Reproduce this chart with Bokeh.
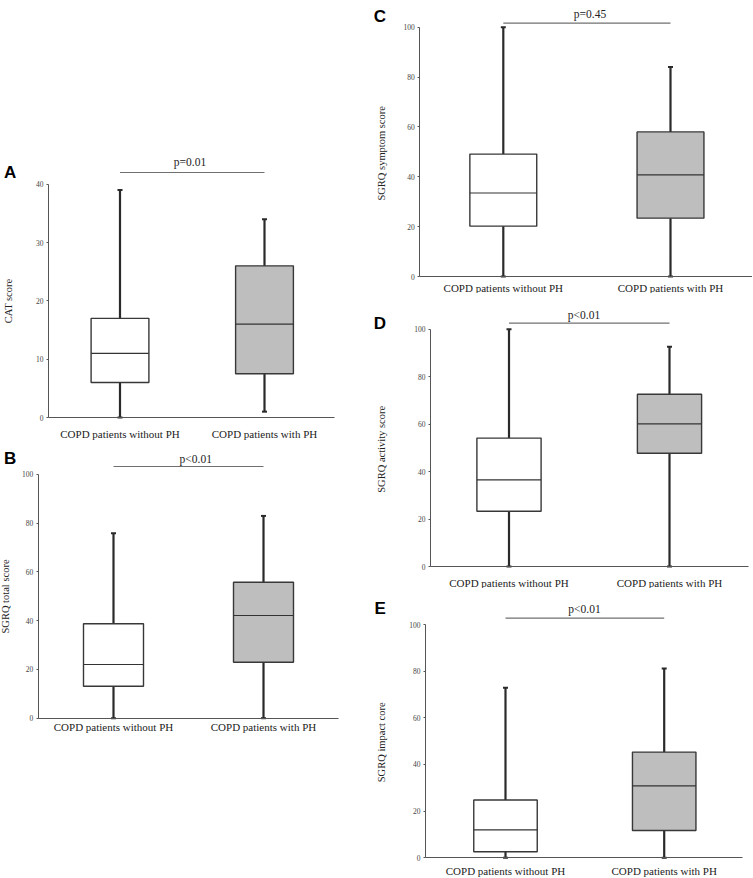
from bokeh.plotting import figure
from bokeh.models import Range1d, FixedTicker
from bokeh.layouts import row, column
from bokeh.core.properties import value
from bokeh.embed import file_html
from bokeh.resources import INLINE

# ---------------- data ----------------
categories = ["COPD patients without PH", "COPD patients with PH"]
group_x = [1, 2]

# A: CAT score
cat_lower = [0, 1]
cat_q1 = [6, 7.5]
cat_median = [11, 16]
cat_q3 = [17, 26]
cat_upper = [39, 34]
cat_ticks = [0, 10, 20, 30, 40]

# B: SGRQ total score
total_lower = [0, 0]
total_q1 = [13.1, 22.9]
total_median = [22, 42.1]
total_q3 = [38.7, 55.7]
total_upper = [75.8, 82.9]

# C: SGRQ symptom score
symptom_lower = [0, 0]
symptom_q1 = [20.2, 23.4]
symptom_median = [33.5, 40.8]
symptom_q3 = [49.1, 58.0]
symptom_upper = [100, 84]

# D: SGRQ activity score
activity_lower = [0, 0]
activity_q1 = [23.3, 47.7]
activity_median = [36.5, 60.1]
activity_q3 = [54.1, 72.6]
activity_upper = [100, 92.6]

# E: SGRQ impact score
impact_lower = [0, 0]
impact_q1 = [2.6, 11.7]
impact_median = [12, 30.8]
impact_q3 = [24.8, 45.3]
impact_upper = [72.9, 81.1]

sgrq_ticks = [0, 20, 40, 60, 80, 100]

panel_letters = ["A", "B", "C", "D", "E"]
p_labels = ["p=0.01", "p<0.01", "p=0.45", "p<0.01", "p<0.01"]
y_titles = ["CAT score", "SGRQ total score", "SGRQ symptom  score",
            "SGRQ activity  score", "SGRQ  impact core"]

# ---------------- layout (page pixels) ----------------
# fig: (left, top, width, height); c: centres of the two groups; y0/ytop: pixel of 0 and top tick
LAYOUT = {
    "A": dict(fig=(0, 0, 370, 442), c=(119.5, 264.0), y0=417.0, ytop=183.7,
              ax=(48.0, 334.0), letter=(3.5, 172.0), ptext=(189.5, 161.0), bar=172.0,
              title_standoff=19, label_standoff=10),
    "B": dict(fig=(0, 442, 370, 435), c=(113.0, 263.0), y0=717.7, ytop=473.7,
              ax=(37.7, 338.0), letter=(3.5, 458.0), ptext=(195.3, 458.5), bar=466.0,
              title_standoff=8, label_standoff=3),
    "C": dict(fig=(370, 0, 382, 293), c=(502.8, 670.0), y0=276.0, ytop=26.7,
              ax=(419.3, 751.7), letter=(373.3, 16.0), ptext=(589.5, 13.0), bar=22.7,
              title_standoff=13, label_standoff=5),
    "D": dict(fig=(370, 293, 382, 295), c=(508.5, 669.0), y0=566.0, ytop=328.7,
              ax=(430.0, 748.0), letter=(373.3, 323.0), ptext=(583.5, 314.5), bar=322.7,
              title_standoff=24, label_standoff=10),
    "E": dict(fig=(370, 588, 382, 290), c=(505.0, 663.7), y0=857.3, ytop=624.0,
              ax=(425.0, 741.7), letter=(374.0, 608.0), ptext=(584.0, 608.5), bar=617.7,
              title_standoff=19, label_standoff=7),
}

SERIF = "Liberation Serif"
BOX_W = 0.4
AXIS_COLOR = "#555555"
INK = "#2a2a2a"


def make_panel(key, ytitle, plabel, lower, q1, med, q3, upper, yticks):
    L = LAYOUT[key]
    fx, fy, fw, fh = L["fig"]
    c1, c2 = L["c"]
    s = c2 - c1                                   # pixels per x unit
    k = (L["y0"] - L["ytop"]) / yticks[-1]        # pixels per y unit

    def dx(px):
        return group_x[0] + (px - c1) / s

    def dy(py):
        return (L["y0"] - py) / k

    p = figure(width=fw, height=fh,
               x_range=Range1d(dx(fx), dx(fx + fw)), y_range=Range1d(dy(fy + fh), dy(fy)),
               output_backend="svg", toolbar_location=None, tools="", title=None,
               min_border_left=0, min_border_right=0, min_border_top=0, min_border_bottom=0)
    p.outline_line_color = None
    p.xgrid.visible = False
    p.ygrid.visible = False
    p.background_fill_color = "white"
    p.border_fill_color = "white"

    # whiskers
    p.segment(x0=group_x, y0=lower, x1=group_x, y1=upper, line_color=INK, line_width=2.2)
    p.scatter(x=group_x + group_x, y=upper + lower, marker="dash", size=5,
              line_color=INK, line_width=2)
    # boxes
    p.vbar(x=group_x, width=BOX_W, bottom=q1, top=q3,
           fill_color=["white", "#bebebe"], line_color="#383838", line_width=1.4)
    # medians
    p.segment(x0=[gx - BOX_W / 2 for gx in group_x], x1=[gx + BOX_W / 2 for gx in group_x],
              y0=med, y1=med, line_color="#333333", line_width=1.2)
    # significance bar + p value
    p.segment(x0=[group_x[0]], x1=[group_x[1]], y0=[dy(L["bar"])], y1=[dy(L["bar"])],
              line_color="#707070", line_width=1.2)
    p.text(x=[dx(L["ptext"][0])], y=[dy(L["ptext"][1])], text=[plabel],
           text_font=value(SERIF), text_font_size="11.5px", text_color="#222222",
           text_align="center", text_baseline="alphabetic")
    # panel letter
    p.text(x=[dx(L["letter"][0])], y=[dy(L["letter"][1])], text=[key],
           text_font=value("Liberation Sans"), text_font_style="bold",
           text_font_size="17px", text_color="black",
           text_align="left", text_baseline="alphabetic")

    ya = p.yaxis[0]
    ya.fixed_location = dx(L["ax"][0])
    ya.ticker = FixedTicker(ticks=yticks)
    ya.bounds = (0, yticks[-1])
    ya.major_tick_out = 2
    ya.major_tick_in = 0
    ya.minor_tick_out = 0
    ya.minor_tick_in = 0
    ya.axis_line_color = AXIS_COLOR
    ya.major_tick_line_color = AXIS_COLOR
    ya.major_label_text_font = SERIF
    ya.major_label_text_font_size = "7.5px"
    ya.major_label_text_color = "#444444"
    ya.major_label_standoff = 3
    ya.axis_label = ytitle
    ya.axis_label_text_font = SERIF
    ya.axis_label_text_font_size = "10.5px"
    ya.axis_label_text_font_style = "normal"
    ya.axis_label_text_color = "#222222"
    ya.axis_label_standoff = L["title_standoff"]

    xa = p.xaxis[0]
    xa.fixed_location = 0
    xa.ticker = FixedTicker(ticks=group_x)
    xa.bounds = (dx(L["ax"][0]), dx(L["ax"][1]))
    xa.major_label_overrides = {group_x[0]: categories[0], group_x[1]: categories[1]}
    xa.major_tick_out = 0
    xa.major_tick_in = 0
    xa.minor_tick_out = 0
    xa.minor_tick_in = 0
    xa.axis_line_color = AXIS_COLOR
    xa.major_label_text_font = SERIF
    xa.major_label_text_font_size = "11px"
    xa.major_label_text_color = "#222222"
    xa.major_label_standoff = L["label_standoff"]
    return p


pA = make_panel("A", y_titles[0], p_labels[0], cat_lower, cat_q1, cat_median,
                cat_q3, cat_upper, cat_ticks)
pB = make_panel("B", y_titles[1], p_labels[1], total_lower, total_q1, total_median,
                total_q3, total_upper, sgrq_ticks)
pC = make_panel("C", y_titles[2], p_labels[2], symptom_lower, symptom_q1,
                symptom_median, symptom_q3, symptom_upper, sgrq_ticks)
pD = make_panel("D", y_titles[3], p_labels[3], activity_lower, activity_q1,
                activity_median, activity_q3, activity_upper, sgrq_ticks)
pE = make_panel("E", y_titles[4], p_labels[4], impact_lower, impact_q1,
                impact_median, impact_q3, impact_upper, sgrq_ticks)

layout = row(column(pA, pB), column(pC, pD, pE))

open("out.html", "w").write(file_html(layout, INLINE))
